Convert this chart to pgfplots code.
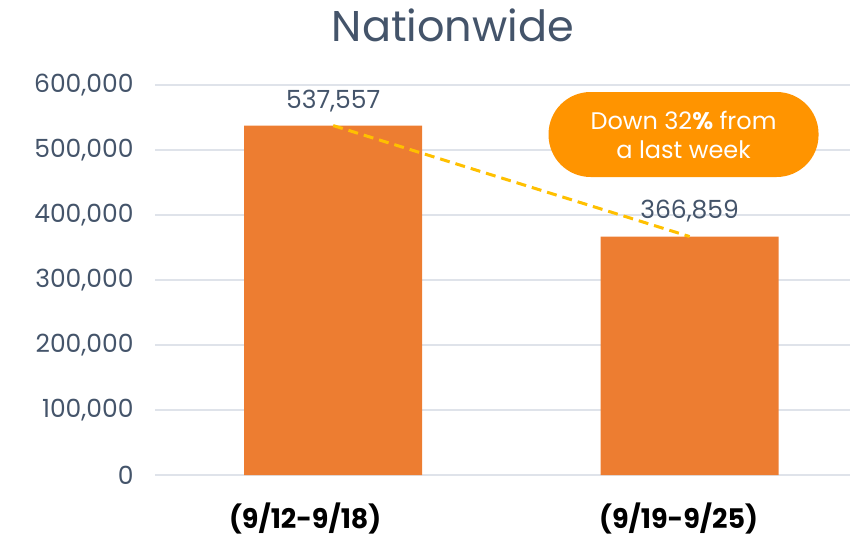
\documentclass[border=0pt]{standalone}
\usepackage{pgfplots}
\pgfplotsset{compat=1.18}
\usepackage{fontspec}
\setmainfont{Poppins}
\definecolor{slate}{HTML}{44546A}
\definecolor{barorange}{HTML}{ED7D31}
\definecolor{callout}{HTML}{FF9400}
\definecolor{dashy}{HTML}{FFC000}
\definecolor{gridc}{HTML}{DFE3EA}
\begin{document}
\begin{tikzpicture}
\path[use as bounding box] (-155pt,-61pt) rectangle (696pt,475pt);
\begin{axis}[
  at={(0pt,0pt)}, anchor=south west,
  scale only axis, width=695pt, height=390pt,
  xmin=-0.5, xmax=1.45, ymin=0, ymax=600000,
  axis line style={draw=none},
  major tick style={draw=none},
  ymajorgrids, grid style={gridc, line width=1.2pt},
  ytick={0,100000,200000,300000,400000,500000,600000},
  xtick={0,1}, xticklabels={{(9/12-9/18)\hspace*{56pt}},{(9/19-9/25)\hspace*{22pt}}},
  scaled y ticks=false,
  /pgf/number format/assume math mode=true,
  yticklabel={\pgfmathprintnumber[fixed,precision=0,1000 sep={,}]{\tick}},
  yticklabel style={font=\fontsize{25}{28}\selectfont, text=slate, anchor=east, xshift=-18pt},
  xticklabel style={font=\fontsize{27}{30}\selectfont\bfseries, text=black, anchor=center, yshift=-43pt},
  clip=false,
]
\addplot[ybar, bar width=178pt, fill=barorange, draw=none,
  nodes near coords={\pgfmathprintnumber[fixed,precision=0,1000 sep={,}]{\pgfplotspointmeta}},
  every node near coord/.append style={font=\fontsize{25}{28}\selectfont, text=slate, anchor=center, yshift=25pt},
] coordinates {(0,537557) (1,366859)};
\addplot[dashy, line width=3pt, dash pattern=on 10pt off 6pt] coordinates {(0,537557) (1,366859)};
\node[fill=callout, rounded corners=42pt, minimum width=270pt, minimum height=85pt, text=white, align=center, font=\fontsize{24}{29}\selectfont, inner sep=0pt]
  at (axis cs:0.983,523846) {Down 32\textbf{\%} from\\a last week};
\node[font=\fontsize{43}{48}\selectfont, text=slate] at (298pt,450pt) {Nationwide};
\end{axis}
\end{tikzpicture}
\end{document}
